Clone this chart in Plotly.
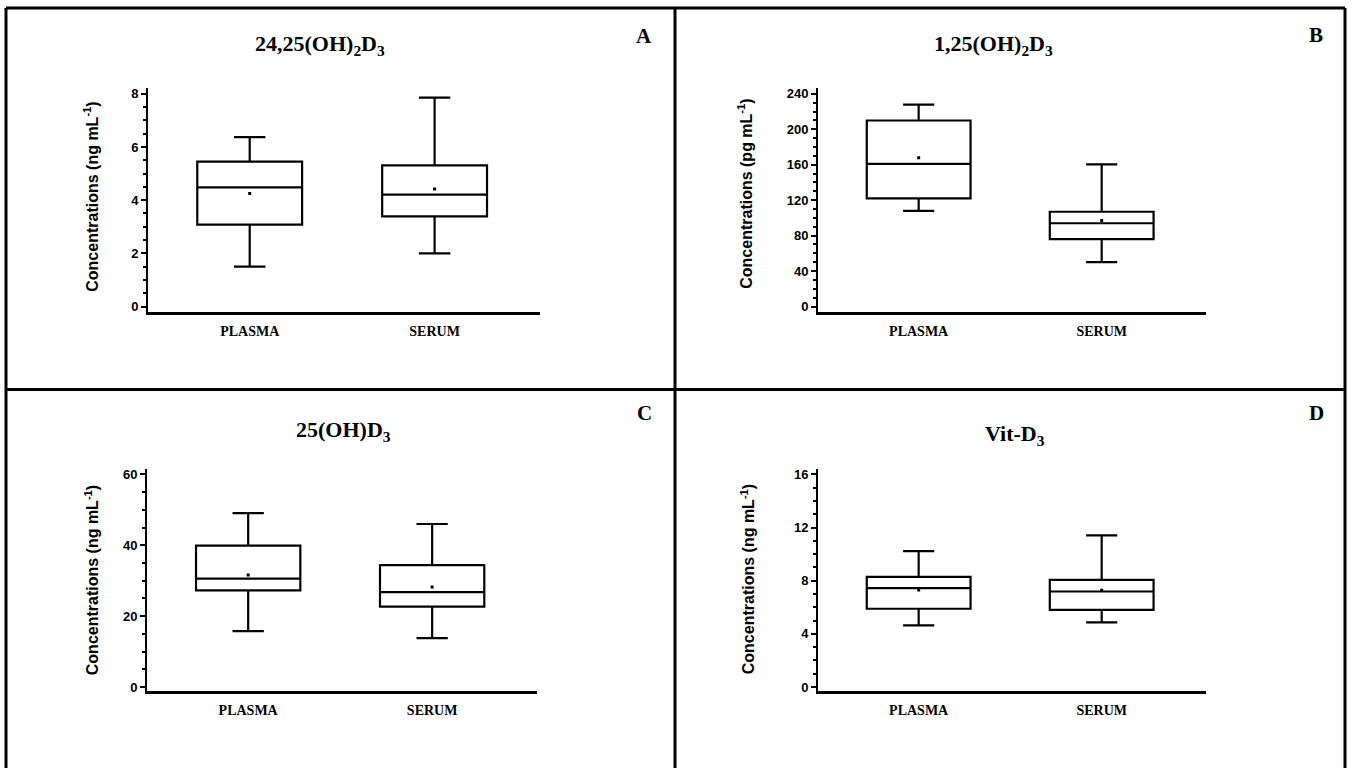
import plotly.graph_objects as go

W, H = 1352, 771

categories = ["PLASMA", "SERUM"]

titles = ["24,25(OH)<sub>2</sub>D<sub>3</sub>", "1,25(OH)<sub>2</sub>D<sub>3</sub>",
          "25(OH)D<sub>3</sub>", "Vit-D<sub>3</sub>"]
letters = ["A", "B", "C", "D"]
ytitles = ["Concentrations (ng mL<sup>-1</sup>)", "Concentrations (pg mL<sup>-1</sup>)",
           "Concentrations (ng mL<sup>-1</sup>)", "Concentrations (ng mL<sup>-1</sup>)"]

# Panel data: q1, median, q3, lower whisker, upper whisker, mean
a_q1 = [3.08, 3.39]; a_med = [4.48, 4.21]; a_q3 = [5.45, 5.31]
a_low = [1.5, 2.0]; a_up = [6.37, 7.86]; a_mean = [4.25, 4.42]

b_q1 = [122, 76]; b_med = [161, 94]; b_q3 = [210, 107]
b_low = [108, 50]; b_up = [228, 160.5]; b_mean = [168, 97]

c_q1 = [27.3, 22.7]; c_med = [30.6, 26.8]; c_q3 = [39.9, 34.4]
c_low = [15.8, 13.8]; c_up = [49.1, 46.0]; c_mean = [31.6, 28.2]

d_q1 = [5.89, 5.81]; d_med = [7.44, 7.19]; d_q3 = [8.29, 8.06]
d_low = [4.64, 4.87]; d_up = [10.23, 11.41]; d_mean = [7.3, 7.29]

yticks = [[0, 2, 4, 6, 8], [0, 40, 80, 120, 160, 200, 240], [0, 20, 40, 60], [0, 4, 8, 12, 16]]
ymax = [8, 240, 60, 16]
minor = [0.5, 10, 5, 1]

panels = [
    (a_q1, a_med, a_q3, a_low, a_up, a_mean),
    (b_q1, b_med, b_q3, b_low, b_up, b_mean),
    (c_q1, c_med, c_q3, c_low, c_up, c_mean),
    (d_q1, d_med, d_q3, d_low, d_up, d_mean),
]

# pixel layout (left, right, zero-tick y, top-tick y, axis bottom y, axis top y)
geo = [
    (148, 540, 306.5, 92.5, 312, 87),
    (818, 1206, 306.5, 92.5, 312, 87),
    (147, 537, 689.5, 475.5, 694, 470),
    (818, 1206, 689.5, 475.5, 694, 470),
]

def px(x):
    return x / W

def py(y):
    return 1 - y / H

fig = go.Figure()
serif = "Liberation Serif, Times New Roman, serif"
narrow = "Liberation Sans Narrow, Arial Narrow, Liberation Sans, Arial, sans-serif"

for i, (q1, med, q3, low, up, mean) in enumerate(panels):
    n = "" if i == 0 else str(i + 1)
    L, R, z, t, bot, top = geo[i]
    per = (z - t) / ymax[i]
    y0 = -(bot - z) / per
    y1 = (z - top) / per
    fig.add_trace(go.Box(
        x=categories, q1=q1, median=med, q3=q3, lowerfence=low, upperfence=up,
        fillcolor="white", line=dict(color="black", width=2.2),
        whiskerwidth=0.3, boxpoints=False, showlegend=False, hoverinfo="skip",
        xaxis="x" + n, yaxis="y" + n,
    ))
    fig.add_trace(go.Scatter(
        x=categories, y=mean, mode="markers",
        marker=dict(color="black", size=3, symbol="square"),
        showlegend=False, hoverinfo="skip", xaxis="x" + n, yaxis="y" + n,
    ))
    fig.layout["xaxis" + n] = dict(
        domain=[px(L), px(R)], anchor="y" + n, type="category",
        range=[-0.55, 1.57], showline=True, linecolor="black", linewidth=2.5,
        ticks="", showgrid=False, zeroline=False,
        tickfont=dict(family=serif, size=14, color="black", weight="bold"),
        ticklabelstandoff=4,
    )
    fig.layout["yaxis" + n] = dict(
        domain=[py(bot), py(top)], anchor="x" + n, range=[y0, y1],
        showline=True, linecolor="black", linewidth=2, showgrid=False, zeroline=False,
        tickvals=yticks[i], ticks="outside", ticklen=5, tickwidth=2, tickcolor="black",
        minor=dict(dtick=minor[i], tick0=0, ticks="outside", ticklen=3, tickwidth=1.5, tickcolor="black"),
        tickfont=dict(family=narrow, size=13, color="black", weight="bold"),
    )

frame = dict(color="black", width=3)
shapes = [
    dict(type="line", xref="paper", yref="paper", x0=px(6), x1=px(1345), y0=py(6), y1=py(6), line=frame),
    dict(type="line", xref="paper", yref="paper", x0=px(6), x1=px(6), y0=py(771), y1=py(6), line=frame),
    dict(type="line", xref="paper", yref="paper", x0=px(1345), x1=px(1345), y0=py(771), y1=py(6), line=frame),
    dict(type="line", xref="paper", yref="paper", x0=px(675), x1=px(675), y0=py(771), y1=py(6), line=frame),
    dict(type="line", xref="paper", yref="paper", x0=px(6), x1=px(1345), y0=py(390), y1=py(390), line=frame),
]

title_pos = [(320, 43), (993, 43), (343, 432), (1015, 436)]
letter_pos = [(644, 34), (1316, 33), (644, 414), (1316, 414)]
ytitle_pos = [(91, 196), (745, 193), (92, 582), (748, 581)]

annotations = []
for i in range(4):
    annotations.append(dict(text="<b>" + titles[i] + "</b>", x=px(title_pos[i][0]), y=py(title_pos[i][1]),
                            xref="paper", yref="paper", showarrow=False, xanchor="center", yanchor="middle",
                            font=dict(family=serif, size=22, color="black")))
    annotations.append(dict(text="<b>" + letters[i] + "</b>", x=px(letter_pos[i][0]), y=py(letter_pos[i][1]),
                            xref="paper", yref="paper", showarrow=False, xanchor="center", yanchor="middle",
                            font=dict(family=serif, size=21, color="black")))
    annotations.append(dict(text="<b>" + ytitles[i] + "</b>", x=px(ytitle_pos[i][0]), y=py(ytitle_pos[i][1]),
                            xref="paper", yref="paper", showarrow=False, xanchor="center", yanchor="middle",
                            textangle=-90, font=dict(family=narrow, size=16, color="black")))

fig.update_layout(
    width=W, height=H, margin=dict(l=0, r=0, t=0, b=0),
    paper_bgcolor="white", plot_bgcolor="white",
    boxgap=0.19, shapes=shapes, annotations=annotations,
)

fig.write_html("out.html", config={"displayModeBar": False})
